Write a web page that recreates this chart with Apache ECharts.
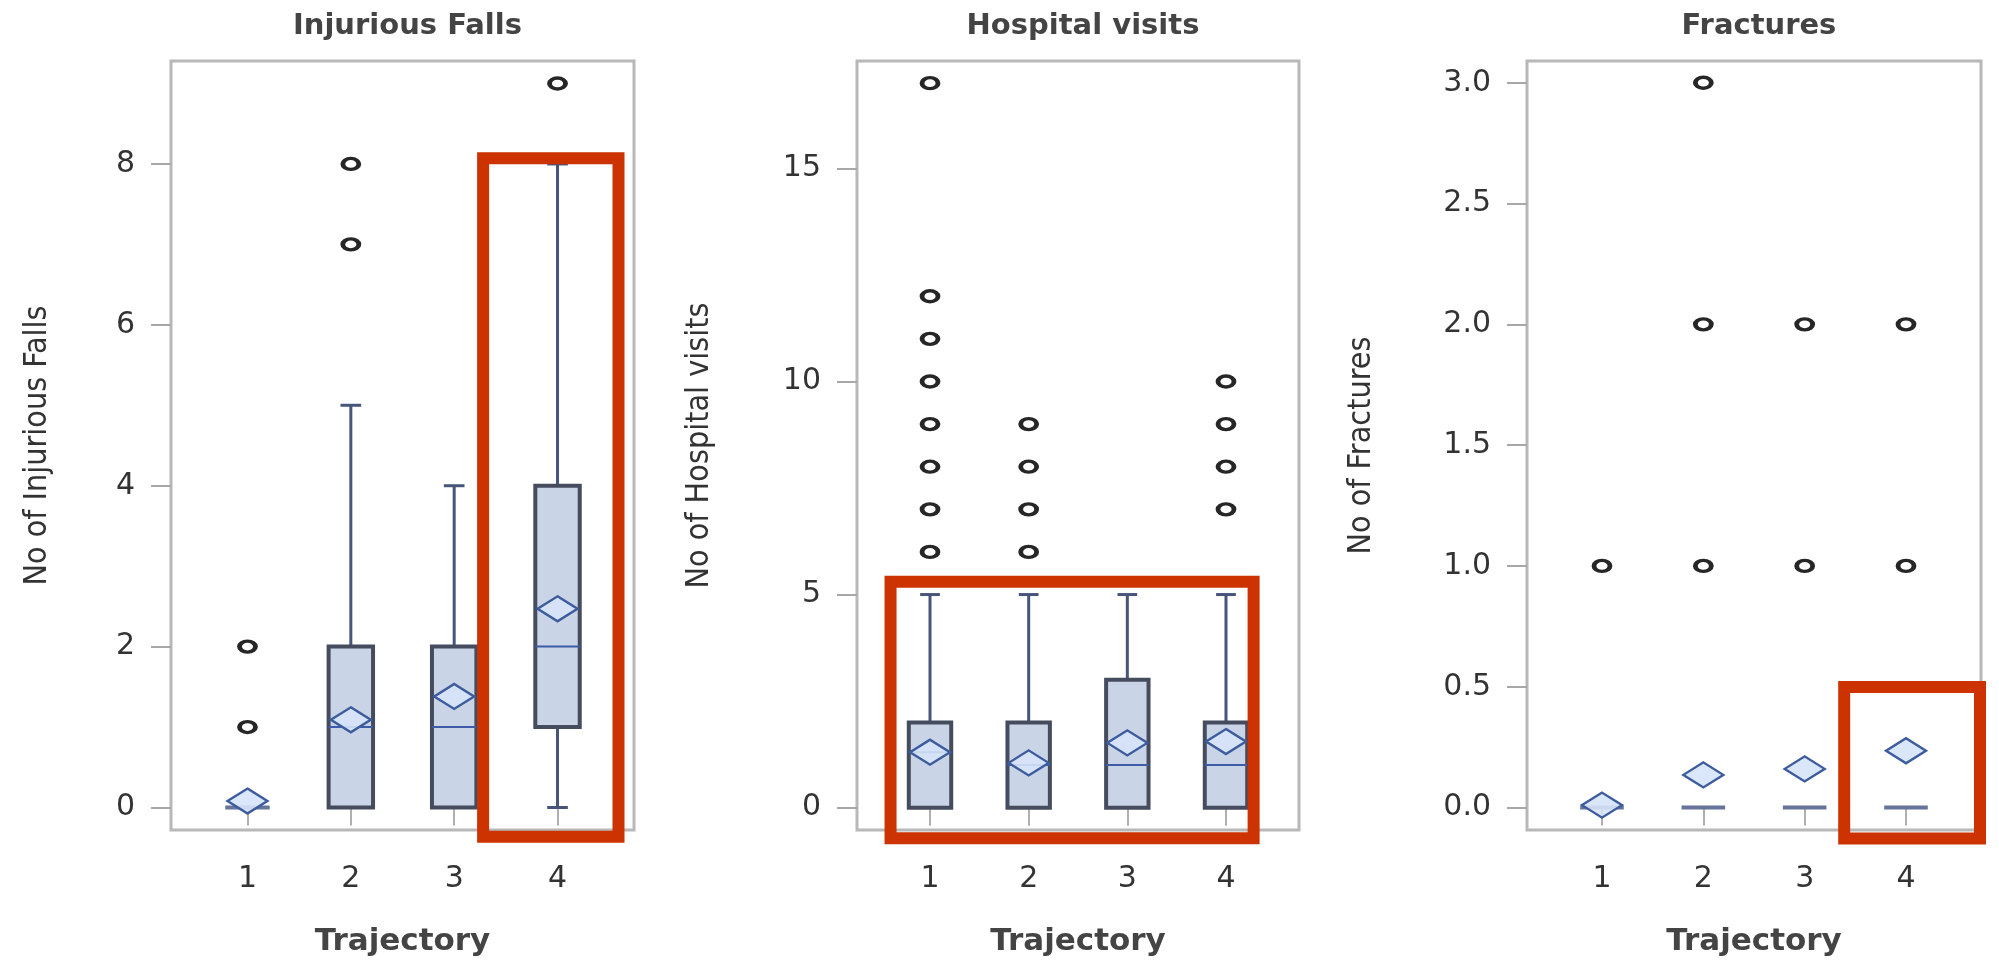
<!DOCTYPE html>
<html>
<head>
<meta charset="utf-8">
<script src="https://cdn.jsdelivr.net/npm/echarts@6/dist/echarts.min.js"></script>
<style>
html,body{margin:0;padding:0;background:#fff;}
#chart{width:1999px;height:962px;}
</style>
</head>
<body>
<div id="chart"></div>
<script>
// ---------------- data ----------------
const categories = [1, 2, 3, 4];
const panelTitles = ['Injurious Falls', 'Hospital visits', 'Fractures'];
const yAxisNames = ['No of Injurious Falls', 'No of Hospital visits', 'No of Fractures'];
const xAxisName = 'Trajectory';

// [min, Q1, median, Q3, max] per trajectory
const fallsStats = [[0, 0, 0, 0, 0], [0, 0, 1, 2, 5], [0, 0, 1, 2, 4], [0, 1, 2, 4, 8]];
const fallsMeans = [0.08, 1.09, 1.38, 2.47];
const fallsOutliers = [[1, 1], [1, 2], [2, 7], [2, 8], [4, 9]];

const visitsStats = [[0, 0, 1.3, 2, 5], [0, 0, 1, 2, 5], [0, 0, 1, 3, 5], [0, 0, 1, 2, 5]];
const visitsMeans = [1.30, 1.05, 1.52, 1.55];
const visitsOutliers = [
  [1, 6], [1, 7], [1, 8], [1, 9], [1, 10], [1, 11], [1, 12], [1, 17],
  [2, 6], [2, 7], [2, 8], [2, 9],
  [4, 7], [4, 8], [4, 9], [4, 10]
];

const fracturesStats = [[0, 0, 0, 0, 0], [0, 0, 0, 0, 0], [0, 0, 0, 0, 0], [0, 0, 0, 0, 0]];
const fracturesMeans = [0.01, 0.135, 0.16, 0.235];
const fracturesOutliers = [[1, 1], [2, 1], [2, 2], [2, 3], [3, 1], [3, 2], [4, 1], [4, 2]];

// tick labels
const fallsTicks = [0, 2, 4, 6, 8];
const visitsTicks = [0, 5, 10, 15];
const fracturesTicks = [0, 0.5, 1.0, 1.5, 2.0, 2.5, 3.0];

// highlight (red annotation) rectangles in data units: [xFrom, xTo, yFrom, yTo]
const highlightFalls = [3.28, 4.59, -0.365, 8.07];
const highlightVisits = [0.60, 4.28, -0.72, 5.30];
const highlightFractures = [3.39, 4.73, -0.128, 0.499];

// ---------------- layout / style ----------------
const panels = [
  {stats: fallsStats, means: fallsMeans, outliers: fallsOutliers, ticks: fallsTicks,
   yMin: -0.28, yMax: 9.28, left: 171, width: 463, nameGap: 117, dec: 0, hl: highlightFalls},
  {stats: visitsStats, means: visitsMeans, outliers: visitsOutliers, ticks: visitsTicks,
   yMin: -0.525, yMax: 17.52, left: 857, width: 442, nameGap: 141, dec: 0, hl: highlightVisits},
  {stats: fracturesStats, means: fracturesMeans, outliers: fracturesOutliers, ticks: fracturesTicks,
   yMin: -0.093, yMax: 3.09, left: 1527, width: 454, nameGap: 149, dec: 1, hl: highlightFractures}
];
const GRID_TOP = 61, GRID_H = 770;
const X_MIN = 0.26, X_MAX = 4.74;
const BOX_W = 0.43, CAP_W = 0.2;
const TXT = '#333333';
const FONT = 'DejaVu Sans';

function boxRender(params, api) {
  const x = api.value(0);
  const mn = api.value(1), q1 = api.value(2), md = api.value(3), q3 = api.value(4), mx = api.value(5);
  const bw = api.size([BOX_W, 0])[0];
  const cw = api.size([CAP_W, 0])[0];
  const cx = api.coord([x, md])[0];
  const Y = v => api.coord([x, v])[1];
  const whisker = {stroke: '#47557a', lineWidth: 3};
  const ch = [];
  if (mx > q3) {
    ch.push({type: 'line', shape: {x1: cx, y1: Y(q3), x2: cx, y2: Y(mx)}, style: whisker});
    ch.push({type: 'line', shape: {x1: cx - cw / 2, y1: Y(mx), x2: cx + cw / 2, y2: Y(mx)}, style: whisker});
  }
  if (mn < q1) {
    ch.push({type: 'line', shape: {x1: cx, y1: Y(q1), x2: cx, y2: Y(mn)}, style: whisker});
    ch.push({type: 'line', shape: {x1: cx - cw / 2, y1: Y(mn), x2: cx + cw / 2, y2: Y(mn)}, style: whisker});
  }
  if (q3 > q1) {
    ch.push({type: 'rect', shape: {x: cx - bw / 2, y: Y(q3), width: bw, height: Y(q1) - Y(q3)},
      style: {fill: '#c9d4e7', stroke: '#454c5e', lineWidth: 4}});
    ch.push({type: 'line', shape: {x1: cx - bw / 2, y1: Y(md), x2: cx + bw / 2, y2: Y(md)},
      style: {stroke: '#3e5ba6', lineWidth: 2}});
  } else {
    ch.push({type: 'line', shape: {x1: cx - bw / 2, y1: Y(md), x2: cx + bw / 2, y2: Y(md)},
      style: {stroke: '#66739a', lineWidth: 4}});
  }
  return {type: 'group', children: ch};
}

const option = {
  backgroundColor: '#ffffff',
  animation: false,
  title: panels.map((p, i) => ({
    text: panelTitles[i],
    left: p.left + p.width / 2,
    textAlign: 'center',
    top: 7,
    textStyle: {fontFamily: FONT, fontSize: 29, fontWeight: 'bold', color: '#444444'}
  })),
  grid: panels.map(p => ({
    left: p.left, top: GRID_TOP, width: p.width, height: GRID_H,
    show: true, borderColor: '#b8b8b8', borderWidth: 3, backgroundColor: '#ffffff',
    containLabel: false
  })),
  xAxis: panels.map((p, i) => ({
    type: 'value', gridIndex: i, min: X_MIN, max: X_MAX,
    name: xAxisName, nameLocation: 'middle', nameGap: 96,
    nameTextStyle: {fontFamily: FONT, fontSize: 31, fontWeight: 'bold', color: '#444444'},
    axisLine: {show: false},
    splitLine: {show: false},
    axisTick: {show: true, customValues: categories, length: 18, lineStyle: {color: '#b0b0b0', width: 2}},
    axisLabel: {customValues: categories, margin: 34, fontFamily: FONT, fontSize: 30, color: TXT,
      formatter: v => String(v)}
  })),
  yAxis: panels.map((p, i) => ({
    type: 'value', gridIndex: i, min: p.yMin, max: p.yMax,
    name: yAxisNames[i], nameLocation: 'middle', nameRotate: 90, nameGap: p.nameGap,
    nameTextStyle: {fontFamily: 'Liberation Sans Narrow, DejaVu Sans Condensed, sans-serif', fontSize: 32, color: '#333'},
    axisLine: {show: false},
    splitLine: {show: false},
    axisTick: {show: true, customValues: p.ticks, length: 20, lineStyle: {color: '#a8a8a8', width: 2}},
    axisLabel: {customValues: p.ticks, margin: 36, fontFamily: FONT, fontSize: 30, color: TXT,
      formatter: v => Number(v).toFixed(p.dec)}
  })),
  series: []
};

panels.forEach((p, i) => {
  option.series.push({
    type: 'custom', xAxisIndex: i, yAxisIndex: i,
    renderItem: boxRender,
    encode: {x: 0, y: [1, 2, 3, 4, 5]},
    data: p.stats.map((s, k) => [categories[k]].concat(s)),
    z: 2
  });
  option.series.push({
    type: 'scatter', xAxisIndex: i, yAxisIndex: i,
    data: p.outliers,
    symbol: 'circle', symbolSize: [16, 11],
    itemStyle: {color: '#ffffff', borderColor: '#262626', borderWidth: 4, opacity: 1},
    z: 3
  });
  option.series.push({
    type: 'scatter', xAxisIndex: i, yAxisIndex: i,
    data: p.means.map((m, k) => [categories[k], m]),
    symbol: 'diamond', symbolSize: [40, 25],
    itemStyle: {color: 'rgba(214,227,248,0.9)', borderColor: '#3d5c9e', borderWidth: 2.5, opacity: 1},
    z: 4
  });
});

const chart = echarts.init(document.getElementById('chart'), null, {renderer: 'canvas'});
chart.setOption(option);

// red annotation rectangles placed through the axes' scales
const graphics = panels.map((p, i) => {
  const a = chart.convertToPixel({gridIndex: i}, [p.hl[0], p.hl[3]]);
  const b = chart.convertToPixel({gridIndex: i}, [p.hl[1], p.hl[2]]);
  return {
    type: 'rect', z: 100,
    shape: {x: a[0], y: a[1], width: b[0] - a[0], height: b[1] - a[1]},
    style: {fill: 'none', stroke: '#cc3300', lineWidth: 12}
  };
});
chart.setOption({graphic: graphics});
</script>
</body>
</html>
